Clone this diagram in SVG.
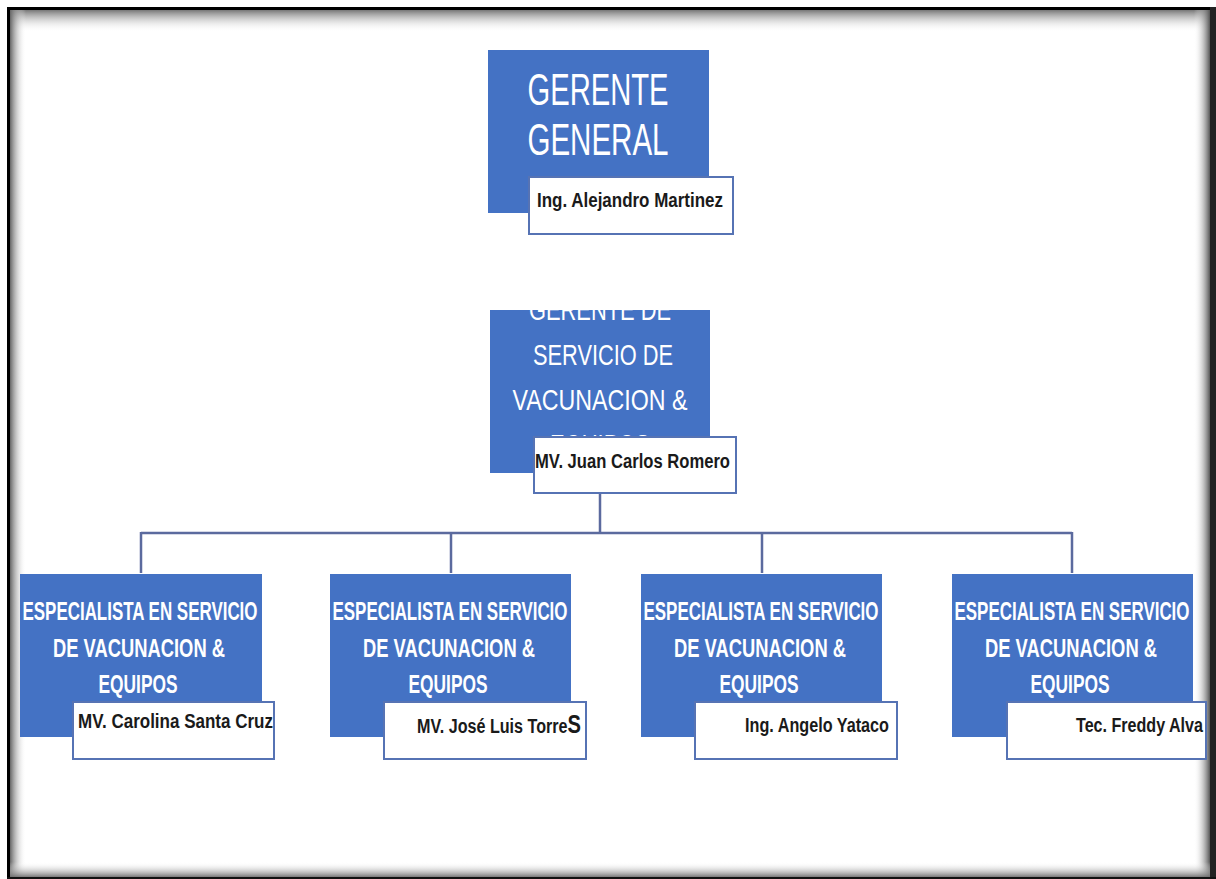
<svg xmlns="http://www.w3.org/2000/svg" width="1216" height="879" viewBox="0 0 1216 879">
<defs>
<style>
.blue{fill:#4472c4;}
.namebox{fill:#ffffff;stroke:#5673b4;stroke-width:2;}
.wt{fill:#ffffff;font-family:"Liberation Sans",Arial,sans-serif;text-anchor:middle;}
.big{font-size:44px;}
.mid{font-size:30px;}
.sm{font-size:26px;font-weight:bold;}
.nm{fill:#1a1a1a;font-family:"Liberation Sans",Arial,sans-serif;font-weight:bold;font-size:20px;}
.conn{stroke:#5b6a9e;stroke-width:2.5;fill:none;}
</style>
<linearGradient id="gTop" x1="0" y1="0" x2="0" y2="1"><stop offset="0" stop-color="#777"/><stop offset="1" stop-color="#fff" stop-opacity="0"/></linearGradient>
<linearGradient id="gLeft" x1="0" y1="0" x2="1" y2="0"><stop offset="0" stop-color="#666"/><stop offset="1" stop-color="#fff" stop-opacity="0"/></linearGradient>
<linearGradient id="gRight" x1="1" y1="0" x2="0" y2="0"><stop offset="0" stop-color="#555"/><stop offset="1" stop-color="#fff" stop-opacity="0"/></linearGradient>
<linearGradient id="gBot" x1="0" y1="1" x2="0" y2="0"><stop offset="0" stop-color="#666"/><stop offset="1" stop-color="#fff" stop-opacity="0"/></linearGradient>
</defs>
<rect x="0" y="0" width="1216" height="879" fill="#ffffff"/>
<g id="frame">
<rect x="10" y="10" width="1200" height="22" fill="url(#gTop)"/>
<rect x="10" y="10" width="16" height="868" fill="url(#gLeft)"/>
<rect x="1194" y="10" width="16" height="868" fill="url(#gRight)"/>
<rect x="10" y="862" width="1200" height="16" fill="url(#gBot)"/>
<rect x="7" y="7" width="1209" height="3" fill="#000"/>
<rect x="7" y="7" width="3" height="872" fill="#000"/>
<rect x="1210" y="7" width="6" height="872" fill="#222"/>
<rect x="7" y="877" width="1209" height="2" fill="#111"/>
</g>
<g id="connectors">
<path class="conn" d="M600,494 V533 M141,533 H1072 M141,532 V573 M451,532 V573 M762,532 V573 M1072,532 V573"/>
</g>
<g id="gerente-general">
<rect class="blue" x="488" y="50" width="221" height="163"/>
<text class="wt big" x="598" y="105" textLength="141" lengthAdjust="spacingAndGlyphs">GERENTE</text>
<text class="wt big" x="598" y="155" textLength="141" lengthAdjust="spacingAndGlyphs">GENERAL</text>
<rect class="namebox" x="529" y="177" width="204" height="57"/>
<text class="nm" x="537" y="207" textLength="186" lengthAdjust="spacingAndGlyphs">Ing. Alejandro Martinez</text>
</g>
<g id="gerente-servicio">
<rect class="blue" x="490" y="310" width="220" height="163"/>
<text class="wt mid" x="600" y="320" textLength="142" lengthAdjust="spacingAndGlyphs">GERENTE DE</text>
<text class="wt mid" x="603" y="365" textLength="140" lengthAdjust="spacingAndGlyphs">SERVICIO DE</text>
<text class="wt mid" x="600" y="410" textLength="175" lengthAdjust="spacingAndGlyphs">VACUNACION &amp;</text>
<text class="wt mid" x="600" y="455" textLength="100" lengthAdjust="spacingAndGlyphs">EQUIPOS</text>
<rect class="namebox" x="534" y="437" width="202" height="56"/>
<text class="nm" x="535" y="468" textLength="195" lengthAdjust="spacingAndGlyphs">MV. Juan Carlos Romero</text>
</g>
<g id="especialista-1">
<rect class="blue" x="20" y="574" width="242" height="163"/>
<text class="wt sm" x="140" y="620" textLength="235" lengthAdjust="spacingAndGlyphs">ESPECIALISTA EN SERVICIO</text>
<text class="wt sm" x="139" y="657" textLength="172" lengthAdjust="spacingAndGlyphs">DE VACUNACION &amp;</text>
<text class="wt sm" x="138" y="693" textLength="79" lengthAdjust="spacingAndGlyphs">EQUIPOS</text>
<rect class="namebox" x="73" y="702" width="201" height="57"/>
<text class="nm" x="78" y="728" textLength="195" lengthAdjust="spacingAndGlyphs">MV. Carolina Santa Cruz</text>
</g>
<g id="especialista-2">
<rect class="blue" x="330" y="574" width="241" height="163"/>
<text class="wt sm" x="450" y="620" textLength="235" lengthAdjust="spacingAndGlyphs">ESPECIALISTA EN SERVICIO</text>
<text class="wt sm" x="449" y="657" textLength="172" lengthAdjust="spacingAndGlyphs">DE VACUNACION &amp;</text>
<text class="wt sm" x="448" y="693" textLength="79" lengthAdjust="spacingAndGlyphs">EQUIPOS</text>
<rect class="namebox" x="384" y="702" width="202" height="57"/>
<text class="nm" x="417" y="733" textLength="164" lengthAdjust="spacingAndGlyphs">MV. José Luis Torre<tspan font-size="25px">S</tspan></text>
</g>
<g id="especialista-3">
<rect class="blue" x="641" y="574" width="241" height="163"/>
<text class="wt sm" x="761" y="620" textLength="235" lengthAdjust="spacingAndGlyphs">ESPECIALISTA EN SERVICIO</text>
<text class="wt sm" x="760" y="657" textLength="172" lengthAdjust="spacingAndGlyphs">DE VACUNACION &amp;</text>
<text class="wt sm" x="759" y="693" textLength="79" lengthAdjust="spacingAndGlyphs">EQUIPOS</text>
<rect class="namebox" x="695" y="702" width="202" height="57"/>
<text class="nm" x="745" y="732" textLength="144" lengthAdjust="spacingAndGlyphs">Ing. Angelo Yataco</text>
</g>
<g id="especialista-4">
<rect class="blue" x="952" y="574" width="241" height="163"/>
<text class="wt sm" x="1072" y="620" textLength="235" lengthAdjust="spacingAndGlyphs">ESPECIALISTA EN SERVICIO</text>
<text class="wt sm" x="1071" y="657" textLength="172" lengthAdjust="spacingAndGlyphs">DE VACUNACION &amp;</text>
<text class="wt sm" x="1070" y="693" textLength="79" lengthAdjust="spacingAndGlyphs">EQUIPOS</text>
<rect class="namebox" x="1007" y="702" width="199" height="57"/>
<text class="nm" x="1076" y="732" textLength="127" lengthAdjust="spacingAndGlyphs">Tec. Freddy Alva</text>
</g>
</svg>
